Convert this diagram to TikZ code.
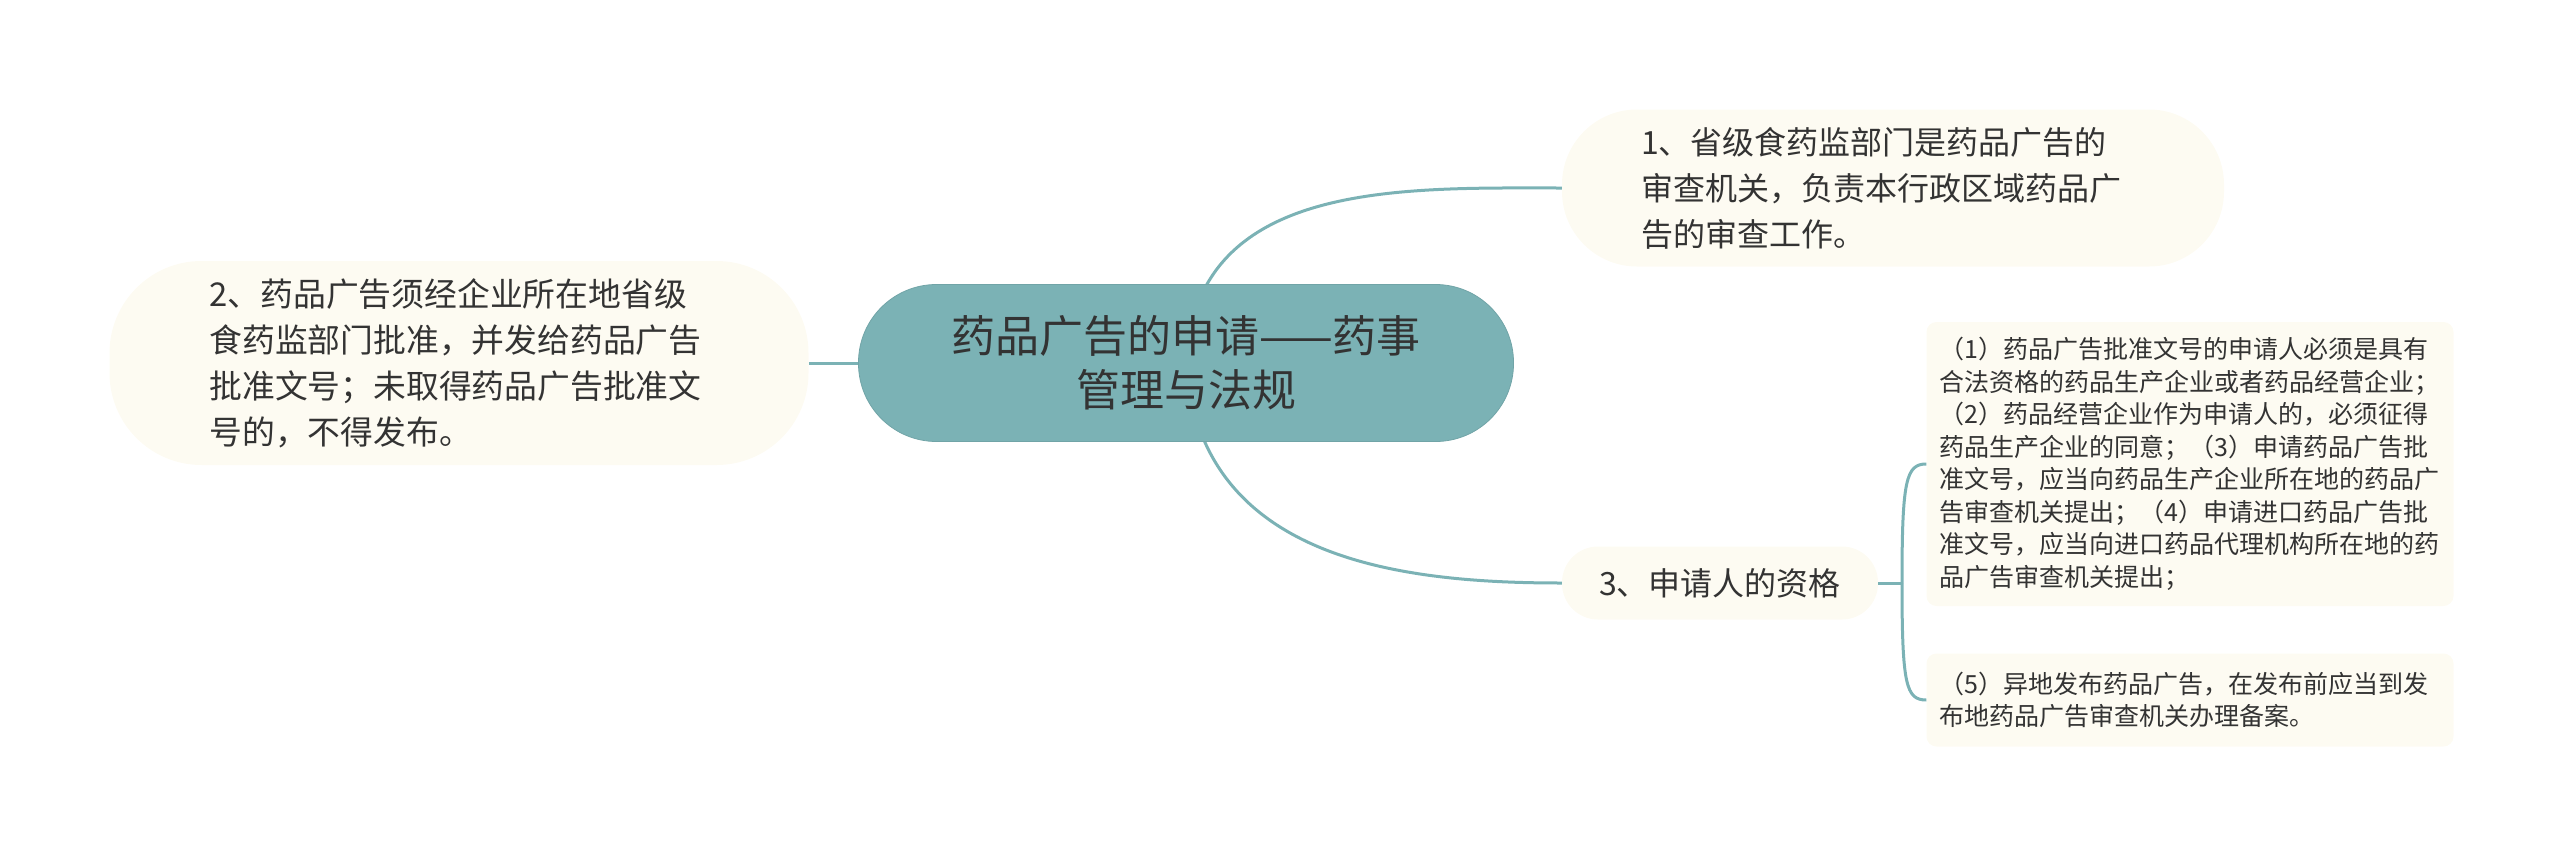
\documentclass[tikz,border=0pt]{standalone}
\usepackage{fontspec}
\setmainfont{Noto Sans CJK SC}
\usepackage{xcolor}
\usepackage{tikz}
\usetikzlibrary{backgrounds}
\definecolor{tealmain}{HTML}{7BB2B5}
\definecolor{creambox}{HTML}{FDFBF2}
\definecolor{inktext}{HTML}{333333}

\begin{document}
\begin{tikzpicture}[x=1pt,y=-1pt,
  topic/.style={fill=tealmain,draw=tealmain!92!black,line width=0.8pt,rounded corners=78pt,
                minimum width=655pt,minimum height=157pt,align=center,text=inktext,inner sep=0pt,
                font=\fontsize{44}{54}\selectfont},
  leaf/.style={fill=creambox,draw=none,align=left,text=inktext,inner ysep=0pt,
               font=\fontsize{32}{46}\selectfont},
  note/.style={fill=creambox,draw=none,align=left,text=inktext,rounded corners=10pt,
               text width=501pt,inner xsep=13pt,inner ysep=0pt,font=\fontsize{25}{32.5}\selectfont},
  link/.style={draw=tealmain,line width=3pt}]
\useasboundingbox (0,0) rectangle (2560,854);
\node[topic] (c) at (1186,363) {药品广告的申请——药事\\管理与法规};
\node[leaf,text width=504pt,inner xsep=79pt,minimum height=157pt,rounded corners=75pt] (n1) at (1893,188)
  {1、省级食药监部门是药品广告的\\审查机关，负责本行政区域药品广\\告的审查工作。};
\node[leaf,text width=499pt,inner xsep=100pt,minimum height=204pt,rounded corners=92pt,
      font=\fontsize{32.8}{46}\selectfont] (n2) at (459,363)
  {2、药品广告须经企业所在地省级\\食药监部门批准，并发给药品广告\\批准文号；未取得药品广告批准文\\号的，不得发布。};
\node[leaf,inner xsep=0pt,minimum width=316pt,minimum height=73pt,rounded corners=36pt] (n3) at (1720,583)
  {3、申请人的资格};
\node[note,minimum height=284pt] (n4) at (2190,464)
  {（1）药品广告批准文号的申请人必须是具有\\合法资格的药品生产企业或者药品经营企业；\\（2）药品经营企业作为申请人的，必须征得\\药品生产企业的同意；（3）申请药品广告批\\准文号，应当向药品生产企业所在地的药品广\\告审查机关提出；（4）申请进口药品广告批\\准文号，应当向进口药品代理机构所在地的药\\品广告审查机关提出；};
\node[note,minimum height=93pt] (n5) at (2190,700)
  {（5）异地发布药品广告，在发布前应当到发\\布地药品广告审查机关办理备案。};
\coordinate (br) at (1902,583);
\begin{scope}[on background layer]
\draw[link] (c.center) .. controls (1195,180) and (1400,188) .. (n1.west);
\draw[link] (c.center) .. controls (1200,560) and (1400,583) .. (n3.west);
\draw[link] (n2.east) -- (c.west);
\end{scope}
\draw[link] (n3.east) -- (br);
\draw[link] (br) .. controls (1902,480) and (1906,464) .. (n4.west);
\draw[link] (br) .. controls (1902,685) and (1906,700) .. (n5.west);
\end{tikzpicture}
\end{document}
